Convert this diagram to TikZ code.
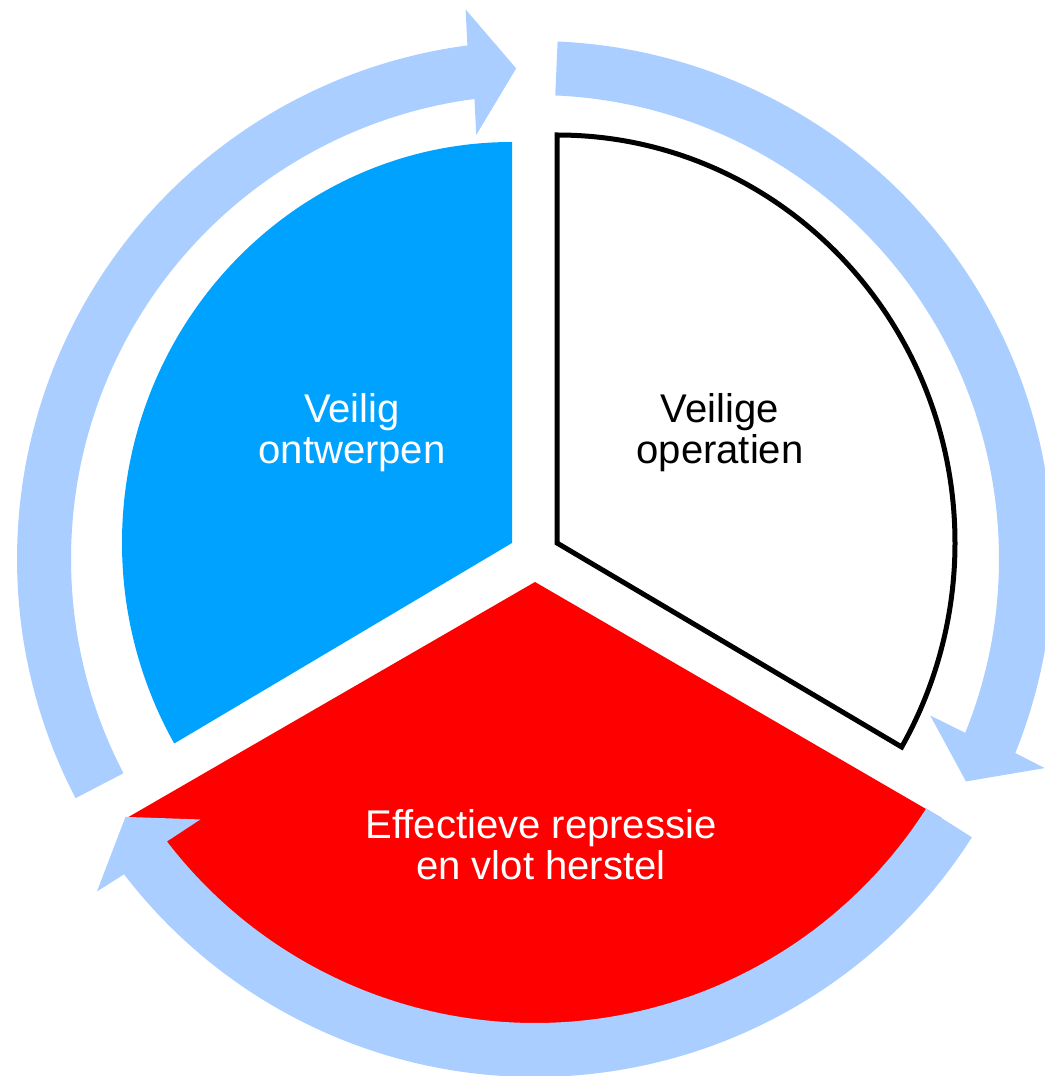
\documentclass[tikz,border=0pt]{standalone}
\usepackage{fontspec}
\setmainfont{Liberation Sans}
\usetikzlibrary{calc}
\definecolor{sectorblue}{RGB}{0,162,255}
\definecolor{sectorred}{RGB}{255,0,0}
\definecolor{ringblue}{RGB}{170,206,255}

\begin{document}
\begin{tikzpicture}[
        x=0.02cm, y=0.02cm,
        celltext/.style={font=\fontsize{22.8}{23.4}\selectfont, align=center, text centered, inner sep=0pt},
        ringarrow/.style={fill=ringblue, draw=none},
        outline/.style={draw=black, line width=0.1cm, fill=white}
    ]
    \useasboundingbox (0,0) rectangle (1045,1076);

    % Centres of the sectors and of the arrow ring
    \coordinate (ring) at (535,517);
    \coordinate (design) at (512,533);
    \coordinate (ops) at (557,533);
    \coordinate (repair) at (535,494);

    % Sectors
    \fill[sectorblue] (design) -- ++(0,401) arc[start angle=90, end angle=210, x radius=390, y radius=401] -- cycle;
    \path[outline] (ops) -- ++(0,408) arc[start angle=90, end angle=-30, x radius=398, y radius=408] -- cycle;
    \fill[sectorred] (repair) -- ($(ring)+(212.4:482)$) arc[start angle=212.4, end angle=327.5, radius=482] -- cycle;

    % Sector labels
    \node[celltext, text=white] (designtxt) at (352,643) {Veilig\\ontwerpen};
    \node[celltext] (opstxt) at (720,643) {Veilige\\operatien};
    \node[celltext, text=white] (repairtxt) at (541,231) {Effectieve repressie\\en vlot herstel};

    % Circular arrows (clockwise)
    \fill[ringarrow] ($(ring)+(207.5:518)$) arc[start angle=207.5, end angle=97.5, radius=518]
        -- ($(ring)+(97.5:491)+(94.85:63)$) -- ($(ring)+(92.2:491)$) -- ($(ring)+(97.5:491)-(94.85:63)$)
        -- ($(ring)+(97.5:464)$) arc[start angle=97.5, end angle=207.5, radius=464] -- cycle;
    \fill[ringarrow] ($(ring)+(87.5:518)$) arc[start angle=87.5, end angle=-22, radius=518]
        -- ($(ring)+(-22:488)+(-24.65:63)$) -- ($(ring)+(-27.3:485)$) -- ($(ring)+(-22:488)-(-24.65:63)$)
        -- ($(ring)+(-22:464)$) arc[start angle=-22, end angle=87.5, radius=464] -- cycle;
    \fill[ringarrow] ($(ring)+(-32.5:518)$) arc[start angle=-32.5, end angle=-142.5, radius=518]
        -- ($(ring)+(-142.5:487)+(-145.15:63)$) -- ($(ring)+(-147.8:484)$) -- ($(ring)+(-142.5:487)-(-145.15:63)$)
        -- ($(ring)+(-142.5:464)$) arc[start angle=-142.5, end angle=-32.5, radius=464] -- cycle;
\end{tikzpicture}
\end{document}
